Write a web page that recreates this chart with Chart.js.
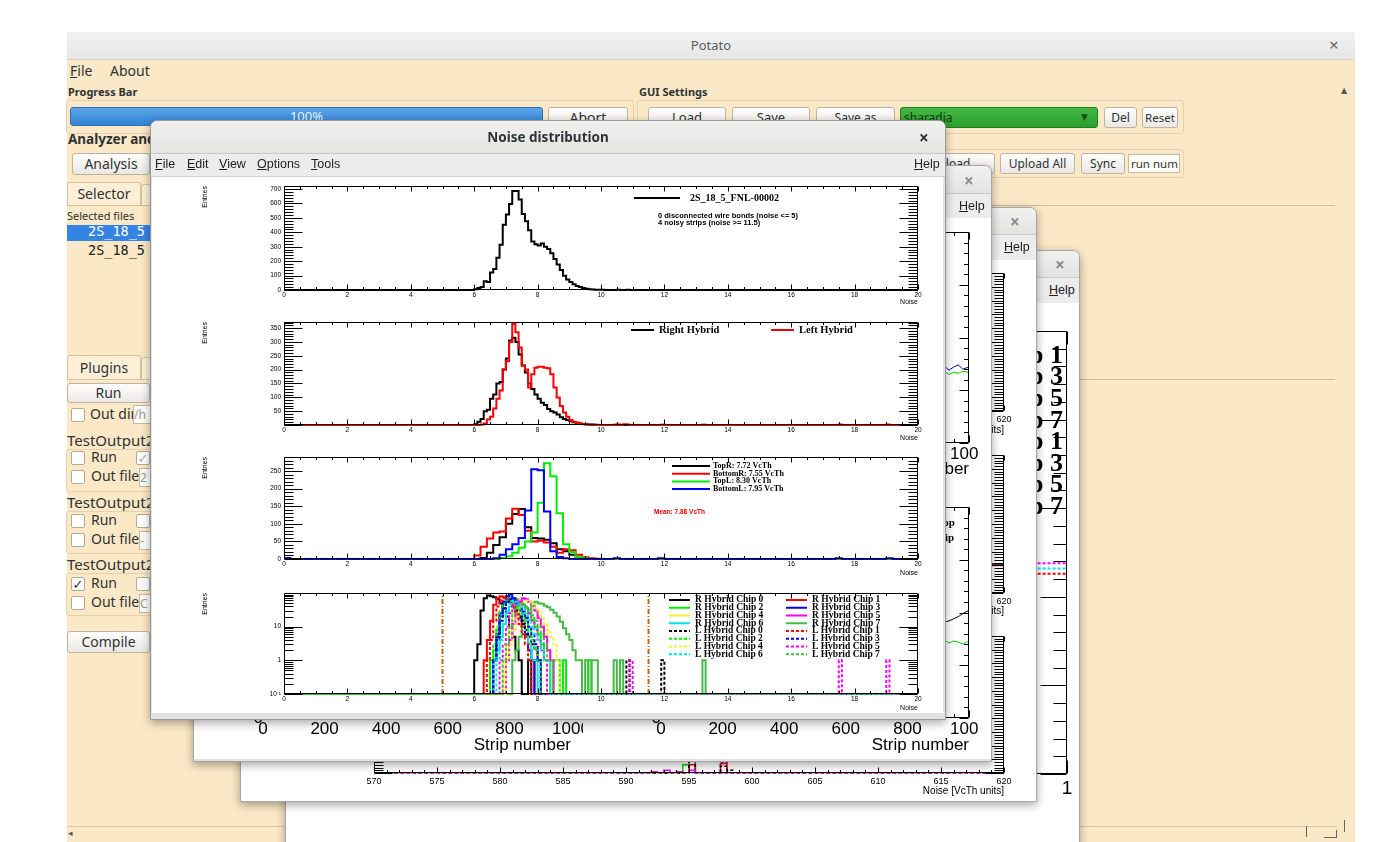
<!DOCTYPE html>
<html>
<head>
<meta charset="utf-8">
<title>Potato - Noise distribution</title>
<script src="https://cdn.jsdelivr.net/npm/chart.js"></script>
<style>
html, body { margin: 0; padding: 0; }
body { width: 1383px; height: 842px; overflow: hidden; position: relative; background: #fff;
       font-family: "Noto Sans", "DejaVu Sans", sans-serif; color: #2e3436; }
.a { position: absolute; white-space: nowrap; }
.lbl { position: absolute; white-space: nowrap; font-size: 14px; line-height: 1.3; }
.btn { position: absolute; box-sizing: border-box; height: 21px; border: 1px solid #bdb3a2; border-radius: 3px;
       background: linear-gradient(#fefefe, #ebe8e3); text-align: center; font-size: 13px; line-height: 19px; overflow: hidden; white-space: nowrap; }
.chk { position: absolute; box-sizing: border-box; width: 14px; height: 14px; border: 1px solid #b3a996; border-radius: 2px;
       background: #fff; font-size: 13px; line-height: 12px; text-align: center; }
.inp { position: absolute; box-sizing: border-box; height: 19px; border: 1px solid #c4b9a5; background: #fffdf8; font-size: 12px; color: #999; overflow: hidden; }
.grp { position: absolute; box-sizing: border-box; border: 1px solid #e4d1ad; border-radius: 3px; }
.tab { position: absolute; box-sizing: border-box; border: 1px solid #d6c39f; border-bottom: none; border-radius: 3px 3px 0 0;
       background: #fcefd6; font-size: 14px; text-align: center; }
.win { position: absolute; overflow: hidden; background: #e2e2e2; border: 1px solid #a5a5a5; border-radius: 7px 7px 0 0;
       box-shadow: 0 3px 10px rgba(0,0,0,.35); }
.tbar { position: absolute; left: 0; top: 0; right: 0; background: linear-gradient(#f1f1f0, #e3e3e2); border-bottom: 1px solid #c9c9c9; }
.mbar { position: absolute; left: 0; right: 0; background: #ececec; border-bottom: 1px solid #cfcfcf;
        font-family: "Liberation Sans", Arial, sans-serif; font-size: 12.5px; color: #222; }
.mbar span { position: absolute; }
.close { position: absolute; font-size: 17px; font-weight: bold; color: #8a8a8a; }
.pane { position: absolute; background: #fff; }
canvas { position: absolute; }
</style>
</head>
<body>

<!-- ===== Potato main window ===== -->
<div class="a" style="left:67px;top:32px;width:1288px;height:27px;background:linear-gradient(#f1f1f1,#e6e6e6);border-bottom:1px solid #d2d2d2"></div>
<div class="a" style="left:67px;top:32px;width:1288px;height:27px;line-height:27px;text-align:center;font-size:13px;color:#5b5b5b">Potato</div>
<div class="a" style="left:1329px;top:33px;font-size:17px;color:#666">×</div>
<div class="a" style="left:67px;top:60px;width:1288px;height:782px;background:#fbe8c6"></div>

<div class="lbl" style="left:70px;top:62px"><u>F</u>ile</div>
<div class="lbl" style="left:110px;top:62px">About</div>

<div class="lbl" style="left:68px;top:85px;font-size:11px;font-weight:bold">Progress Bar</div>
<div class="grp" style="left:66px;top:100px;width:568px;height:34px"></div>
<div class="a" style="left:70px;top:107px;width:473px;height:19px;box-sizing:border-box;border:1px solid #2d72b8;border-radius:3px;background:linear-gradient(#5aa6e8,#3283d4);color:#eaf3fc;font-size:13px;line-height:17px;text-align:center">100%</div>
<div class="btn" style="left:548px;top:107px;width:80px;font-size:14px">Abort</div>

<div class="lbl" style="left:639px;top:85px;font-size:11px;font-weight:bold">GUI Settings</div>
<div class="grp" style="left:637px;top:100px;width:547px;height:34px"></div>
<div class="btn" style="left:648px;top:107px;width:78px">Load</div>
<div class="btn" style="left:732px;top:107px;width:78px">Save</div>
<div class="btn" style="left:816px;top:107px;width:79px;font-size:12px">Save as</div>
<div class="a" style="left:900px;top:107px;width:198px;height:21px;box-sizing:border-box;border:1px solid #1f7f1f;border-radius:3px;background:linear-gradient(#45b945,#2b9f2b);font-size:12px;line-height:19px;padding-left:3px;color:#143814">sharadja</div>
<div class="a" style="left:1081px;top:110px;font-size:9px;color:#1b4d1b">▼</div>
<div class="btn" style="left:1104px;top:107px;width:33px;font-size:12px">Del</div>
<div class="btn" style="left:1142px;top:107px;width:36px;font-size:11.5px">Reset</div>

<div class="lbl" style="left:68px;top:131px;font-size:13.5px;font-weight:bold">Analyzer and</div>
<div class="btn" style="left:72px;top:153px;width:78px;height:22px;font-size:14px">Analysis</div>

<div class="grp" style="left:900px;top:149px;width:284px;height:29px"></div>
<div class="btn" style="left:905px;top:153px;width:90px;font-size:12px">Upload</div>
<div class="btn" style="left:1000px;top:153px;width:75px;font-size:12px">Upload All</div>
<div class="btn" style="left:1081px;top:153px;width:44px;font-size:12px">Sync</div>
<div class="inp" style="left:1128px;top:154px;width:52px;color:#333;font-size:11.5px;line-height:17px;padding-left:2px">run num</div>

<div class="tab" style="left:67px;top:182px;width:74px;height:24px;line-height:22px">Selector</div>
<div class="tab" style="left:141px;top:184px;width:40px;height:22px"></div>
<div class="a" style="left:67px;top:205px;width:1268px;height:175px;box-sizing:border-box;border-top:1px solid #d2c09c;border-bottom:1px solid #d2c09c"></div>
<div class="lbl" style="left:67px;top:209px;font-size:11px">Selected files</div>
<div class="a" style="left:67px;top:225px;width:90px;height:16px;background:#3584e4"></div>
<div class="a" style="left:88px;top:223px;font-family:'DejaVu Sans Mono',monospace;font-size:13.5px;color:#fff">2S_18_5</div>
<div class="a" style="left:88px;top:242px;font-family:'DejaVu Sans Mono',monospace;font-size:13.5px;color:#222">2S_18_5</div>

<div class="tab" style="left:67px;top:355px;width:74px;height:24px;line-height:23px">Plugins</div>
<div class="tab" style="left:141px;top:357px;width:40px;height:22px"></div>
<div class="a" style="left:67px;top:379px;width:100px;height:1px;background:#d2c09c"></div>
<div class="btn" style="left:67px;top:383px;width:83px;height:20px;font-size:14px;line-height:18px">Run</div>
<div class="chk" style="left:71px;top:408px"></div>
<div class="lbl" style="left:90px;top:405px">Out dir</div>
<div class="inp" style="left:133px;top:405px;width:30px;line-height:17px">/h</div>

<div class="lbl" style="left:67px;top:431px;font-size:15px">TestOutput2</div>
<div class="grp" style="left:66px;top:449px;width:100px;height:43px"></div>
<div class="chk" style="left:71px;top:451px"></div><div class="lbl" style="left:91px;top:448px">Run</div>
<div class="chk" style="left:136px;top:451px;color:#aaa">✓</div>
<div class="chk" style="left:71px;top:470px"></div><div class="lbl" style="left:91px;top:467px">Out file</div>
<div class="inp" style="left:139px;top:468px;width:30px;line-height:17px">2</div>

<div class="lbl" style="left:67px;top:493px;font-size:15px">TestOutput2</div>
<div class="grp" style="left:66px;top:511px;width:100px;height:43px"></div>
<div class="chk" style="left:71px;top:514px"></div><div class="lbl" style="left:91px;top:511px">Run</div>
<div class="chk" style="left:136px;top:514px"></div>
<div class="chk" style="left:71px;top:533px"></div><div class="lbl" style="left:91px;top:530px">Out file</div>
<div class="inp" style="left:139px;top:531px;width:30px;line-height:17px">-</div>

<div class="lbl" style="left:67px;top:555px;font-size:15px">TestOutput2</div>
<div class="grp" style="left:66px;top:573px;width:100px;height:43px"></div>
<div class="chk" style="left:71px;top:577px">✓</div><div class="lbl" style="left:91px;top:574px">Run</div>
<div class="chk" style="left:136px;top:577px"></div>
<div class="chk" style="left:71px;top:596px"></div><div class="lbl" style="left:91px;top:593px">Out file</div>
<div class="inp" style="left:139px;top:594px;width:30px;line-height:17px">C</div>

<div class="btn" style="left:67px;top:631px;width:83px;height:22px;font-size:14px">Compile</div>

<div class="a" style="left:1341px;top:84px;font-size:8px;color:#555">▲</div>
<div class="a" style="left:67px;top:826px;width:1270px;height:1px;background:#d8c7a5"></div>
<div class="a" style="left:68px;top:826px;font-size:9px;color:#555">◂</div>
<div class="a" style="left:1306px;top:826px;width:1px;height:11px;background:#666"></div>
<div class="a" style="left:1324px;top:830px;width:12px;height:7px;border-right:1px solid #666;border-bottom:1px solid #666"></div>
<div class="a" style="left:1344px;top:820px;width:1px;height:12px;background:#666"></div>

<!-- ===== background ROOT canvas C ===== -->
<div class="win" style="left:285px;top:250px;width:793px;height:620px;z-index:1">
  <div class="tbar" style="height:26px"></div>
  <div class="close" style="left:769px;top:2px">×</div>
  <div class="mbar" style="top:27px;height:25px"><span style="left:763px;top:5px"><u>H</u>elp</span></div>
  <div class="pane" style="left:0;top:52px;width:793px;height:570px"></div>
  <canvas id="c1" width="789" height="540" style="left:2px;top:52px"></canvas>
</div>

<!-- ===== background ROOT canvas B ===== -->
<div class="win" style="left:240px;top:207px;width:795px;height:593px;z-index:2">
  <div class="tbar" style="height:26px"></div>
  <div class="close" style="left:769px;top:2px">×</div>
  <div class="mbar" style="top:27px;height:25px"><span style="left:763px;top:5px"><u>H</u>elp</span></div>
  <div class="pane" style="left:0;top:52px;width:795px;height:541px"></div>
  <canvas id="b1" width="791" height="180" style="left:2px;top:52px"></canvas>
  <canvas id="b2" width="791" height="180" style="left:2px;top:232px"></canvas>
  <canvas id="b3" width="791" height="180" style="left:2px;top:412px"></canvas>
</div>

<!-- ===== background ROOT canvas A ===== -->
<div class="win" style="left:193px;top:165px;width:797px;height:595px;z-index:3">
  <div class="tbar" style="height:27px"></div>
  <div class="close" style="left:770px;top:3px">×</div>
  <div class="mbar" style="top:28px;height:24px"><span style="left:765px;top:5px"><u>H</u>elp</span></div>
  <div class="pane" style="left:0;top:52px;width:797px;height:541px"></div>
  <canvas id="a1" width="387" height="268" style="left:2px;top:52px"></canvas>
  <canvas id="a2" width="393" height="268" style="left:392px;top:52px"></canvas>
  <canvas id="a3" width="387" height="270" style="left:2px;top:320px"></canvas>
  <canvas id="a4" width="393" height="270" style="left:392px;top:320px"></canvas>
</div>

<!-- ===== Noise distribution window ===== -->
<div class="win" style="left:150px;top:120px;width:794px;height:598px;z-index:4;border-color:#9a9a9a">
  <div class="tbar" style="height:32px"></div>
  <div class="a" style="left:0;top:0;width:794px;height:32px;line-height:32px;text-align:center;font-size:13.5px;font-weight:bold;color:#2e3436">Noise distribution</div>
  <div class="close" style="left:768px;top:5px;color:#2e3436">×</div>
  <div class="mbar" style="top:33px;height:22px">
    <span style="left:4px;top:3px"><u>F</u>ile</span>
    <span style="left:36px;top:3px"><u>E</u>dit</span>
    <span style="left:68px;top:3px"><u>V</u>iew</span>
    <span style="left:106px;top:3px"><u>O</u>ptions</span>
    <span style="left:160px;top:3px"><u>T</u>ools</span>
    <span style="left:763px;top:3px"><u>H</u>elp</span>
  </div>
  <div class="pane" style="left:1px;top:56px;width:791px;height:536px"></div>
  <canvas id="p1" width="789" height="134" style="left:2px;top:56px"></canvas>
  <canvas id="p2" width="789" height="134" style="left:2px;top:190px"></canvas>
  <canvas id="p3" width="789" height="134" style="left:2px;top:324px"></canvas>
  <canvas id="p4" width="789" height="134" style="left:2px;top:458px"></canvas>
</div>

<script>
// ---------- values ----------
const noiseRange = [0, 20];
const fineBin = 0.1;
const coarseBin = 0.2;

// pad 1: whole module
const moduleName = '2S_18_5_FNL-00002';
const moduleStart = 6.0;
const moduleCounts = [5, 14, 20, 60, 55, 121, 145, 224, 313, 453, 523, 597, 686, 686, 628, 527, 476, 415, 336, 317,
                      308, 322, 300, 285, 254, 215, 177, 138, 98, 72, 56, 40, 28, 21, 14, 9, 5, 3, 2, 2, 1];
const moduleSpikes = [[10.5, 2], [10.8, 2]];
const moduleNotes = ['0 disconnected wire bonds (noise <= 5)', '4 noisy strips (noise >= 11.5)'];

// pad 2: hybrids
const hybridNames = ['Right Hybrid', 'Left Hybrid'];
const hybridStarts = [6.0, 6.2];
const rightHybridCounts = [3, 12, 22, 50, 55, 95, 110, 150, 155, 200, 240, 305, 315, 300, 255, 215, 190, 150, 130, 110,
                           95, 80, 72, 58, 50, 45, 38, 28, 22, 18, 14, 10, 8, 5, 4, 3, 2, 2, 1];
const leftHybridCounts = [2, 5, 20, 30, 60, 95, 125, 200, 230, 300, 365, 335, 280, 215, 200, 135, 183, 207, 210, 210,
                          207, 205, 183, 135, 99, 69, 45, 30, 18, 12, 8, 5, 3, 2, 1];
const rightHybridSpikes = [[10.4, 1], [11.9, 1], [13.2, 1]];
const leftHybridSpikes = [[10.5, 2], [10.7, 3], [10.8, 2], [17.5, 2], [19.0, 2]];

// pad 3: sensor halves (0.2 wide bins)
const sensorNames = ['TopR: 7.72 VcTh', 'BottomR: 7.55 VcTh', 'TopL: 8.30 VcTh', 'BottomL: 7.95 VcTh'];
const sensorStarts = [6.2, 6.0, 6.8, 6.6];
const topRCounts = [3, 18, 40, 62, 100, 128, 142, 90, 60, 58, 55, 45, 28, 22, 12, 5, 2];
const bottomRCounts = [10, 35, 58, 75, 78, 115, 143, 125, 80, 50, 52, 47, 35, 18, 28, 25, 12, 5, 2, 1];
const topLCounts = [3, 8, 18, 32, 50, 75, 160, 272, 235, 130, 42, 20, 6, 2];
const bottomLCounts = [2, 12, 28, 42, 60, 138, 255, 252, 135, 22, 6, 2];
const bottomLSpikes = [[0, 3], [10.4, 2], [11.8, 2], [17.4, 2], [19.0, 2]];
const meanLabel = 'Mean: 7.88 VcTh';

// pad 4: chips (log scale)
const chipNames = ['R Hybrid Chip 0', 'R Hybrid Chip 1', 'R Hybrid Chip 2', 'R Hybrid Chip 3',
                   'R Hybrid Chip 4', 'R Hybrid Chip 5', 'R Hybrid Chip 6', 'R Hybrid Chip 7',
                   'L Hybrid Chip 0', 'L Hybrid Chip 1', 'L Hybrid Chip 2', 'L Hybrid Chip 3',
                   'L Hybrid Chip 4', 'L Hybrid Chip 5', 'L Hybrid Chip 6', 'L Hybrid Chip 7'];
const chipStarts = [6.0, 6.3, 6.5, 6.6, 6.9, 7.0, 6.6, 7.2, 6.6, 6.4, 6.5, 6.6, 7.0, 6.8, 6.7, 6.9];
const chipCounts = [
  [1, 3, 30, 70, 85, 80, 75, 65, 50, 35, 20, 10, 5, 2, 1, 0, 0, 1],
  [1, 4, 15, 45, 70, 80, 75, 65, 55, 40, 28, 18, 10, 5, 2, 1],
  [1, 2, 8, 25, 50, 70, 75, 70, 65, 55, 45, 35, 25, 16, 10, 6, 3, 1, 1, 0, 1, 1, 0, 1],
  [1, 6, 25, 55, 80, 90, 70, 50, 30, 15, 6, 2, 1],
  [1, 3, 10, 25, 45, 60, 70, 65, 55, 42, 30, 20, 12, 6, 2, 1],
  [1, 4, 12, 30, 55, 70, 65, 55, 42, 30, 18, 10, 5, 2, 1],
  [1, 2, 5, 12, 25, 40, 55, 50, 35, 20, 8, 3, 1, 1],
  [1, 2, 5, 10, 20, 32, 45, 55, 50, 48, 42, 38, 32, 26, 20, 14, 9, 6, 4, 2, 1, 1, 0, 1, 0, 1, 1],
  [1, 5, 20, 45, 60, 55, 42, 30, 20, 12, 8, 5, 3, 2, 1],
  [1, 4, 15, 40, 60, 70, 65, 50, 35, 22, 12, 6, 3, 1],
  [1, 3, 10, 28, 48, 60, 58, 50, 42, 33, 24, 15, 8, 4, 2, 1],
  [1, 4, 15, 35, 55, 65, 60, 50, 40, 28, 18, 10, 6, 3, 1],
  [1, 3, 8, 20, 38, 52, 60, 55, 46, 36, 26, 18, 12, 8, 5, 3, 1],
  [1, 3, 10, 25, 45, 60, 55, 45, 35, 25, 15, 8, 4, 2, 1],
  [1, 4, 12, 30, 48, 58, 55, 45, 35, 25, 16, 10, 6, 4, 2, 1, 1],
  [1, 3, 10, 24, 40, 50, 46, 40, 30, 22, 15, 10, 6, 3, 1, 1]
];
const chipSpikes = [[], [], [[9.6, 1]], [], [], [], [], [[10.4, 1], [10.6, 1], [13.2, 1]],
                    [[10.8, 1], [11.9, 1]], [], [], [], [], [[10.9, 1], [17.5, 1], [19.0, 1]], [], []];
const noiseCuts = [5, 11.5];

// background canvases (only slivers visible)
const stripRange = [0, 1000];
const stripTail = [905, 920, 935, 950, 965, 980, 1000];
const tailTopBlue = [7.1, 7.3, 6.9, 7.2, 7.4, 7.0, 7.2];
const tailTopGreen = [6.6, 6.8, 6.5, 6.7, 6.6, 6.8, 6.7];
const tailBotBlack = [8.9, 9.1, 9.2, 9.4, 9.6, 9.9, 10.2];
const tailBotGreen = [7.2, 7.4, 7.1, 7.3, 7.2, 7.0, 7.3];
const vcthRange = [570, 620];
const vcthBin = 0.5;
const vcthStarts = [594.5, 595, 595, 595, 592];
const vcthCounts = [[6, 9], [10, 0, 0, 0, 0, 8], [6, 0, 0, 0, 0, 7], [12, 0, 0, 0, 0, 5, 2], [1, 0, 2, 0, 1, 0, 2]];
const vcthTailStart = 616;
const vcthTailCounts = [[18, 22, 20, 21], [20, 19, 23, 20]];
const summaryTail = [0.93, 1.0];
const summaryLevel = 11.9;

// ---------- styles ----------
const sans = '"Liberation Sans", Arial, sans-serif';
const serif = '"Liberation Serif", "Times New Roman", serif';
const rootColors = ['#000000', '#ff0000', '#00ee00', '#0000ff', '#f2f230', '#ff00ff', '#00e6e6', '#45bb45'];
const cutColor = '#c8650e';

// ---------- helpers ----------
function histPoints(start, width, counts, spikes, lo, hi, floor) {
  const n = Math.round((hi - lo) / width);
  const bins = new Array(n).fill(0);
  const first = Math.round((start - lo) / width);
  counts.forEach((c, i) => { bins[first + i] = c; });
  (spikes || []).forEach(([x, c]) => { bins[Math.round((x - lo) / width)] = c; });
  const pts = bins.map((c, i) => ({ x: lo + i * width, y: c > 0 ? c : floor }));
  pts.push({ x: hi, y: pts[n - 1].y });
  return pts;
}

function step(label, data, color, dash, i, width) {
  return { label, data, borderColor: color, borderWidth: width || 2, borderDash: dash || [],
           stepped: true, fill: false, pointRadius: 0, clip: false, order: -i };
}

// ROOT-like frame with ticks on all four sides
function frameTicks(t) {
  return {
    id: 'frameTicks',
    afterDatasetsDraw(chart) {
      const { ctx, chartArea: a } = chart;
      const xs = chart.scales.x, ys = chart.scales.y;
      const L = Math.round(a.left) + 0.5, R = Math.round(a.right) - 0.5;
      const T = Math.round(a.top) + 0.5, B = Math.round(a.bottom) - 0.5;
      ctx.save();
      ctx.strokeStyle = '#000';
      ctx.lineWidth = 1;
      ctx.setLineDash([]);
      ctx.beginPath();
      ctx.rect(L, T, R - L, B - T);
      const isMajor = (v, m) => Math.abs(v / m - Math.round(v / m)) < 1e-6;
      const nx = Math.round((xs.max - xs.min) / t.xMinor);
      for (let i = 0; i <= nx; i++) {
        const v = xs.min + i * t.xMinor;
        const len = isMajor(v, t.xMajor) ? t.xLen : t.xLen / 2;
        const p = Math.round(xs.getPixelForValue(v)) + 0.5;
        ctx.moveTo(p, B); ctx.lineTo(p, B - len);
        ctx.moveTo(p, T); ctx.lineTo(p, T + len);
      }
      const yTick = (v, major) => {
        const len = major ? t.yLen : t.yLen / 2;
        const p = Math.round(ys.getPixelForValue(v)) + 0.5;
        ctx.moveTo(L, p); ctx.lineTo(L + len, p);
        ctx.moveTo(R, p); ctx.lineTo(R - len, p);
      };
      if (ys.type === 'logarithmic') {
        for (let e = Math.round(Math.log10(ys.min)); e < Math.log10(ys.max); e++) {
          for (let m = 1; m <= 9; m++) {
            const v = m * Math.pow(10, e);
            if (v < ys.min * 0.999 || v > ys.max * 1.001) continue;
            yTick(v, m === 1);
          }
        }
      } else {
        const ny = Math.floor((ys.max - ys.min) / t.yMinor + 1e-6);
        for (let i = 0; i <= ny; i++) {
          const v = ys.min + i * t.yMinor;
          yTick(v, isMajor(v, t.yMajor));
        }
      }
      ctx.stroke();
      ctx.restore();
    }
  };
}

// ROOT TLegend-like box without border
function legendBox(g) {
  return {
    id: 'legendBox',
    afterDraw(chart) {
      if (!g) return;
      const ctx = chart.ctx;
      const items = g.items || chart.data.datasets.filter(d => d.label)
        .map(d => ({ label: d.label, color: d.borderColor, dash: d.borderDash }));
      ctx.save();
      ctx.textBaseline = 'middle';
      items.forEach((it, i) => {
        const x = g.x + (i % g.cols) * g.colW;
        const y = g.y + Math.floor(i / g.cols) * g.rowH;
        ctx.strokeStyle = it.color;
        ctx.lineWidth = g.lw;
        ctx.setLineDash(it.dash || []);
        ctx.beginPath();
        ctx.moveTo(x, y);
        ctx.lineTo(x + g.lineLen, y);
        ctx.stroke();
        ctx.setLineDash([]);
        ctx.font = g.fnt;
        ctx.fillStyle = '#000';
        if (g.textEnd) {
          ctx.textAlign = 'right';
          ctx.fillText(it.label, x + g.textEnd, y);
        } else {
          ctx.textAlign = 'left';
          ctx.fillText(it.label, x + g.lineLen + g.gap, y);
        }
      });
      (g.notes || []).forEach(n => {
        ctx.font = n.fnt;
        ctx.fillStyle = n.color || '#000';
        ctx.textAlign = 'left';
        ctx.fillText(n.text, n.x, n.y);
      });
      ctx.restore();
    }
  };
}

function rootPad(id, datasets, c) {
  const yLabel = c.y.cb || (v => (Math.abs(v / c.y.step - Math.round(v / c.y.step)) < 1e-6 && !(c.y.hideZero && v === 0)) ? String(v) : '');
  const noPad = s => { s.paddingLeft = 0; s.paddingRight = 0; s.paddingTop = 0; s.paddingBottom = 0; };
  return new Chart(document.getElementById(id), {
    type: 'line',
    data: { datasets },
    plugins: [frameTicks(c.ticks), legendBox(c.legend)],
    options: {
      responsive: false,
      animation: false,
      events: [],
      layout: { padding: { left: c.padL, right: c.padR, top: c.padT, bottom: 0 } },
      elements: { point: { radius: 0 }, line: { tension: 0 } },
      plugins: { legend: { display: false }, tooltip: { enabled: false } },
      scales: {
        x: {
          type: 'linear', min: c.x.min, max: c.x.max,
          grid: { display: false, drawTicks: false }, border: { display: false },
          ticks: { stepSize: c.x.step, includeBounds: false, autoSkip: false, maxRotation: 0, padding: c.x.pad, color: '#000',
                   font: { family: sans, size: c.x.size }, callback: c.x.cb || (v => String(v)) },
          title: { display: !!c.x.title, text: c.x.title || '', align: 'end', color: '#000',
                   font: { family: sans, size: c.x.tsize || 10 }, padding: { top: 0, bottom: c.x.tpad || 0 } },
          afterFit: s => { s.height = c.x.h; noPad(s); }
        },
        y: {
          type: c.y.log ? 'logarithmic' : 'linear', min: c.y.min, max: c.y.max,
          grid: { display: false, drawTicks: false }, border: { display: false },
          ticks: Object.assign({ autoSkip: false, padding: c.y.pad, color: '#000',
                   font: { family: sans, size: c.y.size }, callback: yLabel },
                   c.y.log ? {} : { stepSize: c.y.step, includeBounds: false }),
          title: { display: !!c.y.title, text: c.y.title || '', align: 'end', color: '#000',
                   font: { family: sans, size: c.y.tsize || 10 }, padding: { top: c.y.tpad || 0, bottom: 0 } },
          afterFit: s => { s.width = c.y.w; noPad(s); }
        }
      }
    }
  });
}

// ---------- the four noise pads ----------
const mainX = (h, tpad) => ({ min: noiseRange[0], max: noiseRange[1], step: 2, size: 6.5, pad: 1,
                              title: 'Noise', tsize: 7, tpad, h });
const mainY = extra => Object.assign({ size: 6.5, pad: 3, title: 'Entries', tsize: 7, tpad: 3, w: 86 }, extra);
const mainTicks = (yMajor, yMinor) => ({ xMajor: 2, xMinor: 0.5, xLen: 5, yMajor, yMinor, yLen: 18 });

rootPad('p1', [
  step(moduleName, histPoints(moduleStart, fineBin, moduleCounts, moduleSpikes, 0, 20, 0), '#000', [], 0)
], {
  padL: 45, padR: 24, padT: 9,
  x: mainX(21, 4.8), y: mainY({ min: 0, max: 721, step: 100 }), ticks: mainTicks(100, 20),
  legend: { x: 481, y: 21, cols: 1, colW: 0, rowH: 0, lineLen: 46, gap: 10, lw: 2, fnt: `bold 10px ${serif}`,
            notes: [{ text: moduleNotes[0], x: 505, y: 39, fnt: `bold 7.5px ${sans}` },
                    { text: moduleNotes[1], x: 505, y: 46, fnt: `bold 7.5px ${sans}` }] }
});

rootPad('p2', [
  step(hybridNames[0], histPoints(hybridStarts[0], fineBin, rightHybridCounts, rightHybridSpikes, 0, 20, 0), '#000', [], 0),
  step(hybridNames[1], histPoints(hybridStarts[1], fineBin, leftHybridCounts, leftHybridSpikes, 0, 20, 0), '#ff0000', [], 1)
], {
  padL: 45, padR: 24, padT: 11,
  x: mainX(20, 2.8), y: mainY({ min: 0, max: 372, step: 50, hideZero: true }), ticks: mainTicks(50, 10),
  legend: { x: 478, y: 19, cols: 2, colW: 140, rowH: 0, lineLen: 23, gap: 5, lw: 2, fnt: `bold 10.5px ${serif}` }
});

const sensorCounts = [topRCounts, bottomRCounts, topLCounts, bottomLCounts];
const sensorColors = ['#000000', '#ff0000', '#00ee00', '#0000ff'];
rootPad('p3', sensorNames.map((n, i) =>
  step(n, histPoints(sensorStarts[i], coarseBin, sensorCounts[i], i === 3 ? bottomLSpikes : [], 0, 20, 0), sensorColors[i], [], i)
), {
  padL: 45, padR: 24, padT: 12,
  x: mainX(20, 1.8), y: mainY({ min: 0, max: 290, step: 50 }), ticks: mainTicks(50, 10),
  legend: { x: 519, y: 21, cols: 1, colW: 0, rowH: 7.7, lineLen: 38, gap: 3, lw: 2, fnt: `bold 8px ${serif}`,
            notes: [{ text: meanLabel, x: 501, y: 67, fnt: `bold 6.5px ${sans}`, color: '#ee0000' }] }
});

const chipSets = chipNames.map((n, i) =>
  step(n, histPoints(chipStarts[i], fineBin, chipCounts[i], chipSpikes[i], 0, 20, 0.1),
       rootColors[i % 8], i >= 8 ? [3, 2] : [], i));
noiseCuts.forEach((cut, k) => chipSets.push({
  data: [{ x: cut, y: 0.1 }, { x: cut, y: 100 }], borderColor: cutColor, borderWidth: 2,
  borderDash: [5, 2, 1, 2], pointRadius: 0, clip: false, order: -20 - k
}));
rootPad('p4', chipSets, {
  padL: 45, padR: 24, padT: 14,
  x: mainX(19, 0.8),
  y: mainY({ log: true, min: 0.1, max: 100,
             cb: v => { const l = Math.log10(v); if (Math.abs(l - Math.round(l)) > 1e-6 || v > 50) return '';
                        return Math.round(l) === -1 ? '10\u207B\u00B9' : String(Math.round(v)); } }),
  ticks: mainTicks(10, 1),
  legend: { x: 516, y: 21, cols: 2, colW: 117, rowH: 7.75, lineLen: 21, gap: 5, lw: 2, fnt: `bold 9.5px ${serif}` }
});

// ---------- background canvas A: noise vs strip number ----------
const lineSet = (label, xs, ys, color, i) => ({ label, data: xs.map((x, k) => ({ x, y: ys[k] })), borderColor: color,
  borderWidth: 1, pointRadius: 0, clip: false, order: -i });
const stripX = (h, tpad) => ({ min: stripRange[0], max: stripRange[1], step: 200, size: 17, pad: 1,
                               title: 'Strip number', tsize: 17, tpad, h });
const stripY = w => ({ min: 0, max: 20, step: 5, size: 17, pad: 0, w });
const stripTicks = { xMajor: 200, xMinor: 50, xLen: 7, yMajor: 5, yMinor: 1, yLen: 9 };

rootPad('a1', [], { padL: 10, padR: 12, padT: 14, x: stripX(43, 6.8), y: stripY(57), ticks: stripTicks });
rootPad('a2', [lineSet('', stripTail, tailTopGreen, '#00cc00', 0), lineSet('', stripTail, tailTopBlue, '#0000cc', 1)],
        { padL: 10, padR: 10, padT: 14, x: stripX(43, 6.8), y: stripY(65), ticks: stripTicks });
rootPad('a3', [], { padL: 10, padR: 12, padT: 21, x: stripX(38, 0), y: stripY(57), ticks: stripTicks });
rootPad('a4', [lineSet('', stripTail, tailBotGreen, '#00cc00', 0), lineSet('', stripTail, tailBotBlack, '#000', 1)],
        { padL: 10, padR: 10, padT: 21, x: stripX(38, 0), y: stripY(65), ticks: stripTicks,
          legend: { x: 0, y: 0, cols: 1, colW: 0, rowH: 0, lineLen: 0, gap: 0, lw: 1, fnt: `bold 11px ${serif}`, items: [],
                    notes: [{ text: 'Top', x: 351, y: 37, fnt: `bold 11px ${serif}` },
                            { text: 'Chip', x: 345, y: 52, fnt: `bold 11px ${serif}` }] } });

// ---------- background canvas B: noise in VcTh units ----------
const vcthX = (h, tpad) => ({ min: vcthRange[0], max: vcthRange[1], step: 5, size: 9, pad: 3,
                              title: 'Noise [VcTh units]', tsize: 10, tpad, h });
const vcthY = { min: 0, max: 100, step: 20, size: 9, pad: 3, w: 111, cb: () => '' };
const vcthTicks = { xMajor: 5, xMinor: 1, xLen: 5, yMajor: 10, yMinor: 2, yLen: 18 };
const vcthColors = ['#00cc00', '#0000ff', '#ff0000', '#000000', '#ff00ff'];

rootPad('b1', [], { padL: 20, padR: 30, padT: 13, x: vcthX(29, 4), y: vcthY, ticks: vcthTicks });
rootPad('b2', vcthTailCounts.map((cnt, i) =>
  step('', histPoints(vcthTailStart, 1, cnt, [], vcthRange[0], vcthRange[1], 0), ['#000', '#ff0000'][i], i ? [3, 2] : [], i, 1.5)),
  { padL: 20, padR: 30, padT: 15, x: vcthX(27, 3), y: vcthY, ticks: vcthTicks });
const vcthSets = vcthCounts.map((cnt, i) =>
  step('', histPoints(vcthStarts[i], vcthBin, cnt, [], vcthRange[0], vcthRange[1], 0), vcthColors[i], i % 2 ? [3, 2] : [], i, 1.5));
vcthSets.push(step('', histPoints(vcthRange[0], vcthBin, [0], [], vcthRange[0], vcthRange[1], 0), '#00e6e6', [3, 3], 6, 1.5));
vcthSets.push(step('', histPoints(vcthRange[0], vcthBin, [0], [], vcthRange[0], vcthRange[1], 0), '#f2f230', [2, 4], 7, 1.5));
rootPad('b3', vcthSets, { padL: 20, padR: 30, padT: 16, x: vcthX(27, 3), y: vcthY, ticks: vcthTicks });

// ---------- background canvas C: chip summary ----------
rootPad('c1', ['#ff00ff', '#00e6e6', '#ff0000'].map((col, i) => ({
  data: summaryTail.map(x => ({ x, y: summaryLevel - i * 0.3 })), borderColor: col, borderWidth: 2,
  borderDash: [3, 2], pointRadius: 0, clip: false, order: -i })), {
  padL: 10, padR: 10, padT: 28,
  x: { min: 0, max: 1, step: 0.2, size: 19, pad: 3, h: 69, cb: v => String(Number(v.toFixed(1))) },
  y: { min: 0, max: 25, step: 5, size: 19, pad: 3, w: 63 },
  ticks: { xMajor: 0.2, xMinor: 0.05, xLen: 13, yMajor: 5, yMinor: 1, yLen: 26 },
  legend: { x: 413, y: 53, cols: 2, colW: 187, rowH: 21.6, lineLen: 40, gap: 6, lw: 3, textEnd: 175,
            fnt: `bold 26px ${serif}`,
            items: chipNames.map((n, i) => ({ label: n, color: rootColors[i % 8], dash: i >= 8 ? [4, 3] : [] })) }
});
</script>
</body>
</html>
